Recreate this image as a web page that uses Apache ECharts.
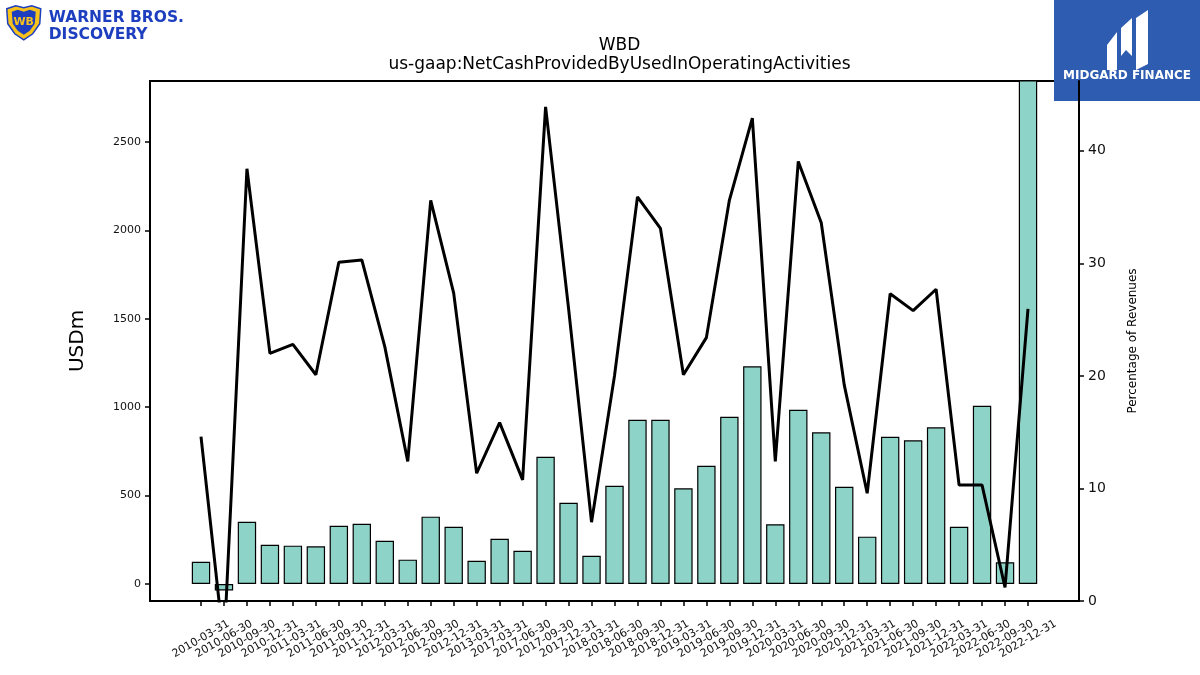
<!DOCTYPE html>
<html>
<head>
<meta charset="utf-8">
<script src="https://cdn.jsdelivr.net/npm/echarts@6/dist/echarts.min.js"></script>
<style>
  html, body { margin: 0; padding: 0; background: #fff; }
  #chart { width: 1200px; height: 675px; }
</style>
</head>
<body>
<div id="chart"></div>
<script>
// quarters on the x axis
const quarters = [
  "2010-03-31", "2010-06-30", "2010-09-30", "2010-12-31",
  "2011-03-31", "2011-06-30", "2011-09-30", "2011-12-31",
  "2012-03-31", "2012-06-30", "2012-09-30", "2012-12-31",
  "2013-03-31", "2017-03-31", "2017-06-30", "2017-09-30",
  "2017-12-31", "2018-03-31", "2018-06-30", "2018-09-30",
  "2018-12-31", "2019-03-31", "2019-06-30", "2019-09-30",
  "2019-12-31", "2020-03-31", "2020-06-30", "2020-09-30",
  "2020-12-31", "2021-03-31", "2021-06-30", "2021-09-30",
  "2021-12-31", "2022-03-31", "2022-06-30", "2022-09-30",
  "2022-12-31"
];

// net cash from operating activities, USDm
const cashFlow = [
  126, -36, 352, 222, 217, 213, 330, 341, 245, 138, 381, 324,
  132, 256, 188, 720, 460, 160, 556, 929, 929, 541, 669, 946,
  1231, 338, 986, 858, 550, 268, 833, 813, 886, 324, 1008, 123,
  3100
];

// same, as % of revenues
const pctRevenue = [
  14.6, -4, 38.4, 22.0, 22.8, 20.1, 30.1, 30.3, 22.6, 12.4, 35.6, 27.35,
  11.35, 15.85, 10.76, 43.9, 26.0, 7.0, 20.0, 35.9, 33.1, 20.1, 23.4, 35.6,
  42.9, 12.4, 39.05, 33.6, 19.2, 9.57, 27.3, 25.8, 27.7, 10.3, 10.3, 1.2,
  25.95
];

const usdTicks = [0, 500, 1000, 1500, 2000, 2500];
const pctTicks = [0, 10, 20, 30, 40];

const idx = quarters.map((_, i) => i);
const font = "DejaVu Sans";

const chart = echarts.init(document.getElementById("chart"));

chart.setOption({
  animation: false,
  backgroundColor: "#fff",
  textStyle: { fontFamily: font },
  title: {
    text: "WBD\nus-gaap:NetCashProvidedByUsedInOperatingActivities",
    left: 614.5,
    top: 31,
    textAlign: "center",
    textStyle: { fontFamily: font, fontSize: 17, fontWeight: "normal", color: "#000", lineHeight: 19 }
  },
  grid: {
    left: 150, right: 121, top: 81, bottom: 74,
    show: true, borderColor: "#000", borderWidth: 2, backgroundColor: "transparent"
  },
  xAxis: {
    type: "value",
    min: -2.22,
    max: 38.22,
    splitLine: { show: false },
    axisLine: { show: true, onZero: false, lineStyle: { color: "#000", width: 2 } },
    axisTick: { show: true, customValues: idx, length: 5, lineStyle: { color: "#000", width: 1.5 } },
    axisLabel: {
      customValues: idx,
      rotate: 30,
      align: "center",
      verticalAlign: "middle",
      margin: 38,
      fontSize: 11,
      color: "#111",
      fontFamily: font,
      formatter: v => quarters[Math.round(v)] || ""
    }
  },
  yAxis: [
    {
      type: "value",
      min: -96,
      max: 2845,
      name: "USDm",
      nameLocation: "middle",
      nameGap: 62,
      nameTextStyle: { fontSize: 20, color: "#000", fontFamily: font },
      splitLine: { show: false },
      axisLine: { show: true, onZero: false, lineStyle: { color: "#000", width: 2 } },
      axisTick: { show: true, customValues: usdTicks, length: 5, lineStyle: { color: "#000", width: 1.5 } },
      axisLabel: {
        customValues: usdTicks, fontSize: 11, color: "#111", margin: 9, fontFamily: font,
        formatter: v => String(v)
      }
    },
    {
      type: "value",
      position: "right",
      min: 0,
      max: 46.2,
      name: "Percentage of Revenues",
      nameLocation: "middle",
      nameGap: 48,
      nameTextStyle: { fontSize: 12, color: "#000", fontFamily: font },
      splitLine: { show: false },
      axisLine: { show: true, onZero: false, lineStyle: { color: "#000", width: 2 } },
      axisTick: { show: true, customValues: pctTicks, length: 5, lineStyle: { color: "#000", width: 1.5 } },
      axisLabel: { customValues: pctTicks, fontSize: 14, color: "#111", margin: 9, fontFamily: font }
    }
  ],
  series: [
    {
      type: "bar",
      yAxisIndex: 0,
      barWidth: 18.4,
      clip: true,
      itemStyle: { color: "#8dd3c7", borderColor: "#000", borderWidth: 1.2 },
      data: cashFlow.map((v, i) => [i, v]),
      z: 2
    },
    {
      type: "line",
      yAxisIndex: 1,
      clip: true,
      symbol: "none",
      lineStyle: { color: "#000", width: 3 },
      data: pctRevenue.map((v, i) => [i, v]),
      z: 3
    }
  ],
  graphic: [
    // Warner Bros. Discovery logo
    {
      type: "group", left: 6, top: 5, z: 100,
      children: [
        {
          type: "polygon",
          shape: { points: [[1, 3], [10, 0], [18, 2], [26, 0], [35, 3], [34, 18], [27, 28], [18, 34], [9, 28], [2, 18]] },
          style: { fill: "#f6c21c", stroke: "#1d3fbf", lineWidth: 1.5 }
        },
        {
          type: "polygon",
          shape: { points: [[6, 6], [12, 4], [18, 6], [24, 4], [30, 6], [29, 18], [24, 25], [18, 29], [12, 25], [7, 18]] },
          style: { fill: "#1d3fbf" }
        },
        {
          type: "text", x: 18, y: 16,
          style: { text: "WB", fill: "#f6c21c", font: "bold 11px " + font, align: "center", verticalAlign: "middle" }
        },
        {
          type: "text", x: 43, y: 4,
          style: { text: "WARNER BROS.", fill: "#1d3fbf", font: "bold 15.5px " + font }
        },
        {
          type: "text", x: 43, y: 21,
          style: { text: "DISCOVERY", fill: "#1d3fbf", font: "bold 15.5px " + font }
        }
      ]
    },
    // Midgard Finance badge
    {
      type: "group", left: 1054, top: 0, z: 100,
      children: [
        { type: "rect", shape: { x: 0, y: 0, width: 146, height: 101 }, style: { fill: "#2d5cb0" } },
        { type: "polygon", shape: { points: [[53, 45], [63, 32], [63, 70], [53, 70]] }, style: { fill: "#fff" } },
        { type: "polygon", shape: { points: [[67, 28], [78, 18], [78, 56], [72, 50], [67, 56]] }, style: { fill: "#fff" } },
        { type: "polygon", shape: { points: [[82, 18], [94, 10], [94, 64], [82, 70]] }, style: { fill: "#fff" } },
        {
          type: "text", x: 73, y: 76,
          style: { text: "MIDGARD FINANCE", fill: "#fff", font: "bold 12px " + font, align: "center", verticalAlign: "middle" }
        }
      ]
    }
  ]
});
</script>
</body>
</html>
